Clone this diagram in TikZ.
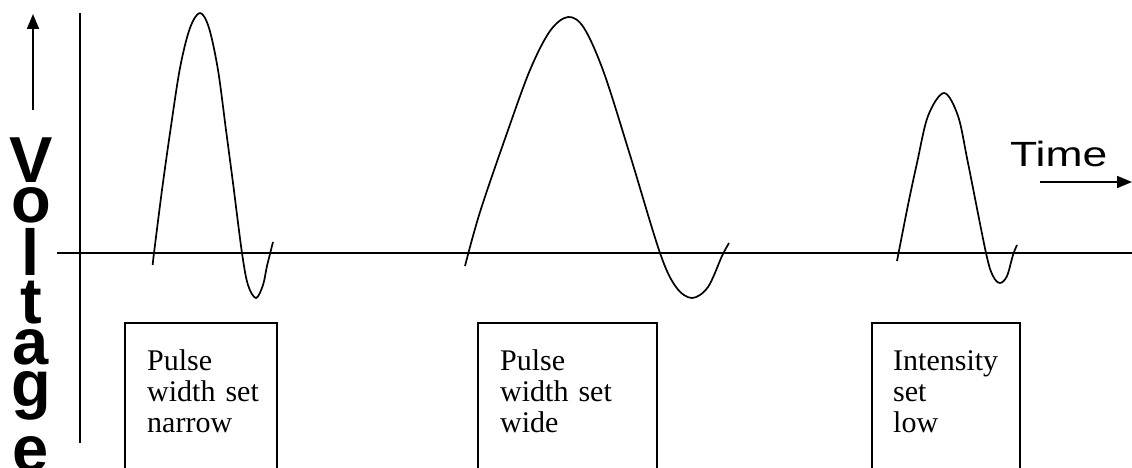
\documentclass[tikz,border=0pt]{standalone}
\usepackage{fontspec}
\usepackage{graphicx}
\setmainfont{Liberation Serif}
\newfontfamily\arialfont{Liberation Sans}
\usetikzlibrary{arrows.meta}
\begin{document}
\begin{tikzpicture}[x=1pt,y=-1pt,
  ln/.style={line width=1.7pt},
  wave/.style={line width=1.7pt, smooth, tension=0.55},
  labelbox/.style={draw, line width=1.7pt},
  boxtext/.style={anchor=base west, inner sep=0pt, text width=150pt, align=left,
    font=\fontsize{30}{31}\selectfont},
  vletter/.style={anchor=base, inner sep=0pt, font=\arialfont\bfseries\fontsize{65}{65}\selectfont},
  arrowtip/.style={-{Triangle[length=15pt,width=12pt]}}]
\useasboundingbox (0,0) rectangle (1132,468);
\clip (0,0) rectangle (1132,468);
% axes
\coordinate (ytop) at (80,13);
\coordinate (ybot) at (80,443);
\coordinate (xl) at (57,253);
\coordinate (xr) at (1132,253);
\draw[ln] (ytop) -- (ybot);
\draw[ln] (xl) -- (xr);
% voltage arrow
\coordinate (va0) at (33,110);
\coordinate (va1) at (33,14);
\draw[ln,arrowtip] (va0) -- (va1);
% Voltage (stacked letters)
\node[vletter] (lV) at (31,182) {V};
\node[vletter] (lo) at (31,222) {o};
\node[vletter] (ll) at (31,275) {l};
\node[vletter] (lt) at (31,323) {t};
\node[vletter] (la) at (31,364) {a};
\node[vletter] (lg) at (31,406) {g};
\node[vletter] (le) at (31,471) {e};
% Time
\node[anchor=base west, inner sep=0pt, font=\arialfont\fontsize{35}{35}\selectfont] (time) at (1010,166) {\scalebox{1.27}[1]{Time}};
\coordinate (ta0) at (1040,182);
\coordinate (ta1) at (1132,182);
\draw[ln,arrowtip] (ta0) -- (ta1);
% pulses
\draw[wave] plot coordinates {(152.7,265) (154,253) (162,190) (170,133) (180,68) (190,28) (200,13) (209,28) (218,70) (226,130) (233,183) (242,253) (248,285) (256,298) (263,285) (267,266) (273,242)};
\draw[wave] plot coordinates {(465,266) (480,212) (507,133) (530,70) (550,31) (568,17) (584,28) (604,73) (630,155) (660,253) (676,287) (692,298) (708,287) (722,256) (729,243)};
\draw[wave] plot coordinates {(897,261) (908,205) (917,163) (928,116) (944,93) (958,116) (968,163) (986,253) (993,276) (1000,283) (1007,276) (1013,255) (1017,245)};
% boxes
\draw[labelbox] (125,323) rectangle (277,480);
\draw[labelbox] (478,323) rectangle (657,480);
\draw[labelbox] (872,323) rectangle (1020,480);
\node[boxtext] (t1) at (147,370) {Pulse\\width set\\narrow};
\node[boxtext] (t2) at (500,370) {Pulse\\width set\\wide};
\node[boxtext] (t3) at (893,370) {Intensity\\set\\low};
\end{tikzpicture}
\end{document}
